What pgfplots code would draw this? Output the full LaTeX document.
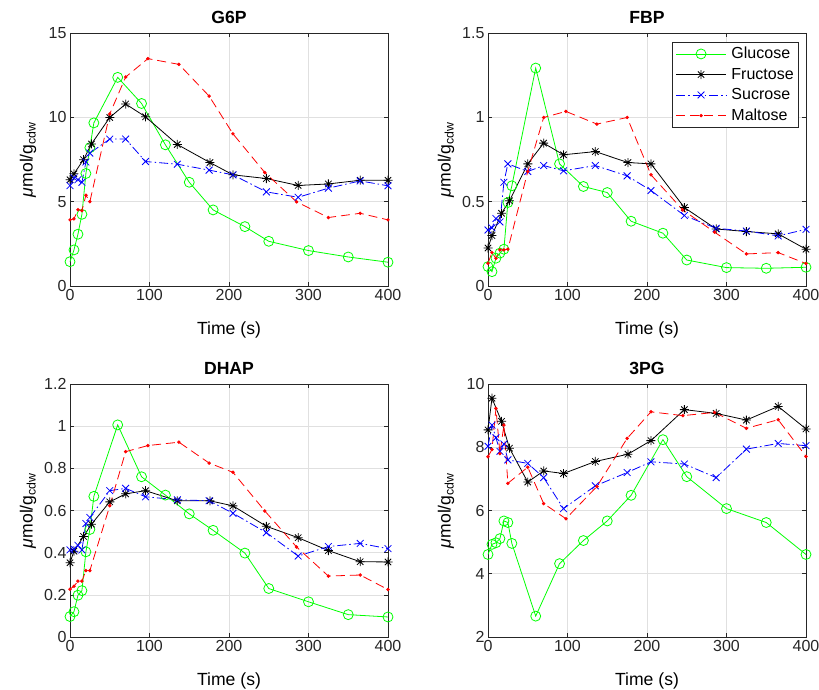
\documentclass[border=0pt]{standalone}
\usepackage{fontspec}
\setmainfont{Liberation Sans}
\usepackage{pgfplots}
\pgfplotsset{compat=1.18}
\definecolor{mgreen}{rgb}{0,1,0}
\definecolor{axgray}{rgb}{0.15,0.15,0.15}
\pgfdeclareplotmark{mstar}{%
 \pgfpathmoveto{\pgfqpoint{0pt}{\pgfplotmarksize}}\pgfpathlineto{\pgfqpoint{0pt}{-\pgfplotmarksize}}%
 \pgfpathmoveto{\pgfqpoint{\pgfplotmarksize}{0pt}}\pgfpathlineto{\pgfqpoint{-\pgfplotmarksize}{0pt}}%
 \pgfpathmoveto{\pgfqpoint{0.7071\pgfplotmarksize}{0.7071\pgfplotmarksize}}\pgfpathlineto{\pgfqpoint{-0.7071\pgfplotmarksize}{-0.7071\pgfplotmarksize}}%
 \pgfpathmoveto{\pgfqpoint{-0.7071\pgfplotmarksize}{0.7071\pgfplotmarksize}}\pgfpathlineto{\pgfqpoint{0.7071\pgfplotmarksize}{-0.7071\pgfplotmarksize}}%
 \pgfusepathqstroke}
\pgfplotsset{
 myax/.style={width=318pt,height=253pt,scale only axis,
  xmin=0,xmax=400,xtick={0,100,200,300,400},
  grid=major, major grid style={color=black!12,line width=0.5pt},
  axis line style={color=axgray,line width=0.6pt},
  tick style={color=axgray,line width=0.6pt},
  major tick length=4pt, tick align=inside,
  /pgf/number format/assume math mode=true,
  tick label style={font=\fontsize{16}{19}\selectfont,color=axgray},
  label style={font=\fontsize{17.6}{21}\selectfont},
  title style={font=\bfseries\fontsize{17.6}{21}\selectfont},
  xlabel={Time (s)},
  ylabel={\textit{μ}mol/g\textsubscript{cdw}},
  xlabel style={at={(axis description cs:0.5,-0.19)},anchor=base},
  ylabel style={at={(axis description cs:-0.132,0.5)},anchor=center},
  clip=false},
 gl/.style={color=mgreen,mark=o,mark size=5pt,line width=0.8pt,solid},
 fr/.style={color=black,mark=mstar,mark size=4.5pt,line width=0.8pt,solid},
 su/.style={color=blue,mark=x,mark size=4.8pt,line width=0.8pt,dash pattern=on 9pt off 3pt on 1.5pt off 3pt,mark options={solid}},
 ma/.style={color=red,mark=*,mark size=1.3pt,line width=0.8pt,dash pattern=on 9pt off 5pt,mark options={solid}},
}
\begin{document}
\begin{tikzpicture}
% ---------------- G6P
\begin{axis}[myax,at={(70pt,404pt)},anchor=south west,ymin=0,ymax=15,ytick={0,5,10,15},title={G6P}]
\addplot[gl] coordinates {(0,1.44)(5,2.14)(10,3.07)(15,4.25)(20,6.67)(25,8.2)(30,9.67)(60,12.37)(90,10.82)(120,8.37)(150,6.15)(180,4.51)(220,3.52)(250,2.65)(300,2.10)(350,1.72)(400,1.41)};
\addplot[fr] coordinates {(0,6.3)(5,6.65)(17,7.49)(27,8.42)(50,9.99)(70,10.79)(95,10.03)(135,8.39)(176,7.32)(205,6.59)(247,6.37)(287,5.96)(325,6.05)(365,6.27)(400,6.27)};
\addplot[su] coordinates {(0,5.95)(5,6.41)(10,6.3)(15,6.15)(20,7.35)(25,7.88)(50,8.71)(70,8.71)(95,7.38)(135,7.22)(175,6.87)(205,6.59)(247,5.58)(287,5.26)(325,5.80)(365,6.23)(400,5.94)};
\addplot[ma] coordinates {(0,3.92)(5,3.98)(10,4.52)(15,4.47)(20,5.38)(25,5.0)(50,10.2)(70,12.39)(98,13.48)(137,13.14)(175,11.26)(205,9.02)(245,6.73)(285,4.99)(325,4.06)(365,4.31)(400,3.92)};
\end{axis}
% ---------------- FBP
\begin{axis}[myax,at={(488pt,404pt)},anchor=south west,ymin=0,ymax=1.5,ytick={0,0.5,1,1.5},title={FBP},
 legend cell align=left,
 legend style={at={(0.978,0.964)},anchor=north east,draw=axgray,line width=0.6pt,font=\fontsize{16}{19}\selectfont,row sep=3.8pt,inner sep=3pt,
  /tikz/every odd column/.append style={column sep=3pt}},
 legend image code/.code={\draw[mark repeat=2,mark phase=2,#1] plot coordinates {(0pt,0pt) (25pt,0pt) (50pt,0pt)};}]
\addplot[gl] coordinates {(0,0.115)(5,0.085)(10,0.165)(15,0.195)(20,0.218)(25,0.495)(30,0.594)(60,1.292)(90,0.724)(120,0.590)(150,0.554)(180,0.384)(220,0.313)(250,0.154)(300,0.109)(350,0.105)(400,0.111)};
\addplot[fr] coordinates {(0,0.225)(5,0.299)(17,0.431)(27,0.505)(50,0.724)(70,0.847)(95,0.778)(135,0.797)(176,0.732)(205,0.724)(247,0.465)(287,0.338)(325,0.323)(365,0.309)(400,0.218)};
\addplot[su] coordinates {(0,0.332)(5,0.345)(10,0.40)(15,0.38)(20,0.615)(25,0.724)(50,0.679)(70,0.714)(95,0.683)(135,0.714)(175,0.653)(205,0.566)(247,0.418)(287,0.342)(325,0.326)(365,0.297)(400,0.336)};
\addplot[ma] coordinates {(0,0.135)(5,0.198)(10,0.164)(15,0.214)(20,0.214)(25,0.218)(50,0.679)(70,0.999)(98,1.035)(137,0.960)(175,0.999)(205,0.659)(245,0.451)(285,0.319)(325,0.190)(365,0.198)(400,0.133)};
\legend{Glucose,Fructose,Sucrose,Maltose}
\end{axis}
% ---------------- DHAP
\begin{axis}[myax,at={(70pt,53pt)},anchor=south west,ymin=0,ymax=1.2,ytick={0,0.2,0.4,0.6,0.8,1,1.2},title={DHAP}]
\addplot[gl] coordinates {(0,0.097)(5,0.12)(10,0.198)(15,0.22)(20,0.404)(25,0.51)(30,0.667)(60,1.006)(90,0.760)(120,0.673)(150,0.584)(180,0.506)(220,0.398)(250,0.230)(300,0.167)(350,0.106)(400,0.095)};
\addplot[fr] coordinates {(0,0.352)(5,0.407)(17,0.477)(27,0.535)(50,0.641)(70,0.679)(95,0.694)(135,0.646)(176,0.646)(205,0.622)(247,0.525)(287,0.471)(325,0.410)(365,0.357)(400,0.356)};
\addplot[su] coordinates {(0,0.413)(5,0.417)(10,0.435)(15,0.413)(20,0.538)(25,0.567)(50,0.694)(70,0.705)(95,0.665)(135,0.651)(175,0.646)(205,0.587)(247,0.495)(287,0.384)(325,0.429)(365,0.444)(400,0.419)};
\addplot[ma] coordinates {(0,0.227)(5,0.241)(10,0.265)(15,0.265)(20,0.315)(25,0.315)(50,0.622)(70,0.879)(98,0.908)(137,0.924)(175,0.825)(205,0.781)(245,0.598)(285,0.427)(325,0.289)(365,0.294)(400,0.225)};
\end{axis}
% ---------------- 3PG
\begin{axis}[myax,at={(488pt,53pt)},anchor=south west,ymin=2,ymax=10,ytick={2,4,6,8,10},title={3PG}]
\addplot[gl] coordinates {(0,4.61)(5,4.93)(10,4.98)(15,5.11)(20,5.67)(25,5.62)(30,4.96)(60,2.66)(90,4.32)(120,5.05)(150,5.67)(180,6.48)(220,8.24)(250,7.07)(300,6.06)(350,5.62)(400,4.61)};
\addplot[fr] coordinates {(0,8.55)(5,9.55)(17,8.82)(27,7.97)(50,6.90)(70,7.25)(95,7.17)(135,7.55)(176,7.78)(205,8.21)(247,9.19)(287,9.07)(325,8.86)(365,9.29)(400,8.58)};
\addplot[su] coordinates {(0,8.03)(5,8.7)(10,8.3)(15,7.87)(20,8.1)(25,7.6)(50,7.49)(70,7.04)(95,6.06)(135,6.78)(175,7.20)(205,7.54)(247,7.47)(287,7.04)(325,7.94)(365,8.12)(400,8.05)};
\addplot[ma] coordinates {(0,7.7)(5,7.93)(10,9.23)(15,7.8)(20,8.7)(25,6.86)(50,7.37)(70,6.22)(98,5.74)(137,6.76)(175,8.28)(205,9.12)(245,9.00)(285,9.10)(325,8.60)(365,8.87)(400,7.71)};
\end{axis}
\pgfresetboundingbox
\path (0pt,0pt) rectangle (819pt,690pt);
\end{tikzpicture}
\end{document}
